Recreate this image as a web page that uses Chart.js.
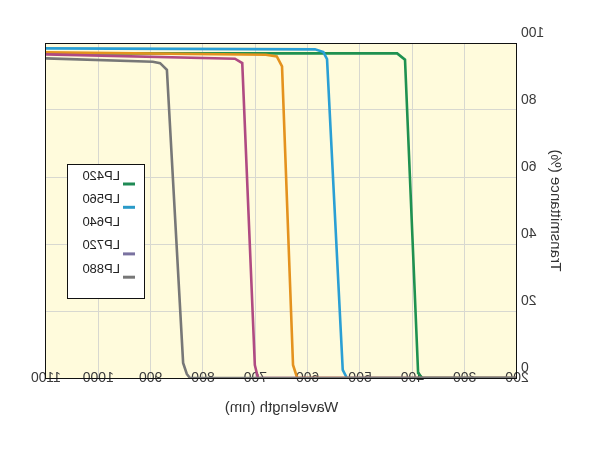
<!DOCTYPE html>
<html>
<head>
<meta charset="utf-8">
<script src="https://cdn.jsdelivr.net/npm/chart.js@4.4.1/dist/chart.umd.min.js"></script>
<style>
  html, body { margin: 0; padding: 0; background: #fff; }
  /* the reference is a horizontally mirrored picture */
  #chart { display: block; transform: scaleX(-1); }
</style>
</head>
<body>
<canvas id="chart" width="595" height="451"></canvas>
<script>
// Series names and readings (wavelength nm / transmittance %)
const seriesNames = ['LP420', 'LP560', 'LP640', 'LP720', 'LP880'];

const wl420 = [200, 381, 389, 414, 429, 1100];
const tr420 = [0, 0, 1.5, 95, 96.9, 96.9];

const wl560 = [200, 525, 533, 563, 570, 586, 1100];
const tr560 = [0, 0, 2.4, 95.2, 97.3, 98.1, 98.4];

const wl640 = [200, 620, 628, 649, 659, 680, 1100];
const tr640 = [0, 0, 3.9, 93, 96, 96.5, 97.2];

const wl720 = [200, 695, 701, 725, 739, 1100];
const tr720 = [0, 0, 3.9, 94, 95.3, 96.6];

const wl880 = [200, 825, 831, 838, 869, 882, 896, 1100];
const tr880 = [0, 0, 1.2, 4.5, 92, 94, 94.4, 95.4];

const xTicks = [200, 300, 400, 500, 600, 700, 800, 900, 1000, 1100];
const yTicks = [0, 20, 40, 60, 80, 100];

const wavelengths = [wl420, wl560, wl640, wl720, wl880];
const transmit = [tr420, tr560, tr640, tr720, tr880];

// styling
const lineColors = ['#1f9150', '#2a9fd4', '#e4921e', '#b04a82', '#777777'];
const swatchColors = ['#1f8a55', '#2a9ac8', 'rgba(0,0,0,0)', '#7a72a0', '#777777'];
const FONT = "'Liberation Sans', Arial, sans-serif";

const datasets = seriesNames.map((name, i) => ({
  label: name,
  data: wavelengths[i].map((w, j) => ({ x: w, y: transmit[i][j] })),
  borderColor: lineColors[i],
  backgroundColor: lineColors[i],
  borderWidth: 2.6,
  pointRadius: 0,
  tension: 0,
  showLine: true,
  order: seriesNames.length - i
}));

// plot background + frame
const frame = {
  id: 'frame',
  beforeDraw(chart) {
    const { ctx, chartArea: a } = chart;
    ctx.save();
    ctx.fillStyle = '#fffbdc';
    ctx.fillRect(a.left, a.top, a.right - a.left, a.bottom - a.top);
    ctx.restore();
  },
  afterDatasetsDraw(chart) {
    const { ctx, chartArea: a } = chart;
    ctx.save();
    ctx.strokeStyle = '#111';
    ctx.lineWidth = 1;
    ctx.strokeRect(a.left + 0.5, a.top + 0.5, a.right - a.left, a.bottom - a.top);
    ctx.restore();
  }
};

// boxed legend inside the plot
const boxLegend = {
  id: 'boxLegend',
  afterDraw(chart) {
    const { ctx, chartArea: a } = chart;
    const bx = a.right - 99, by = a.top + 121, bw = 77, bh = 134;
    ctx.save();
    ctx.fillStyle = '#fff';
    ctx.fillRect(bx, by, bw, bh);
    ctx.strokeStyle = '#111';
    ctx.lineWidth = 1;
    ctx.strokeRect(bx + 0.5, by + 0.5, bw, bh);
    ctx.font = '13px ' + FONT;
    ctx.textBaseline = 'middle';
    ctx.textAlign = 'left';
    chart.data.datasets.forEach((ds, i) => {
      const ty = by + 12 + i * 23.3;
      ctx.fillStyle = '#222';
      ctx.fillText(ds.label, bx + 25, ty);
      ctx.strokeStyle = swatchColors[i];
      ctx.lineWidth = 3;
      ctx.beginPath();
      ctx.moveTo(bx + 10, ty + 8);
      ctx.lineTo(bx + 22, ty + 8);
      ctx.stroke();
    });
    ctx.restore();
  }
};

new Chart(document.getElementById('chart'), {
  type: 'scatter',
  data: { datasets },
  plugins: [frame, boxLegend],
  options: {
    responsive: false,
    animation: false,
    devicePixelRatio: 1,
    layout: { padding: { top: 43, right: 46, bottom: 0, left: 0 } },
    plugins: { legend: { display: false }, tooltip: { enabled: false } },
    scales: {
      x: {
        type: 'linear',
        min: 200,
        max: 1100,
        afterFit(scale) {
          scale.height = 73;
          // labels sit across the axis line, so don't clip them to the scale box
          scale._computeLabelArea = () => undefined;
        },
        afterBuildTicks(scale) { scale.ticks = xTicks.map(v => ({ value: v })); },
        grid: { color: '#d8d8d0', drawTicks: false },
        border: { display: false },
        ticks: {
          padding: -8,
          color: '#3a3a3a',
          font: { family: FONT, size: 14 },
          callback: v => String(v)
        },
        title: {
          display: true,
          text: 'Wavelength (nm)',
          color: '#333',
          font: { family: FONT, size: 15 },
          padding: { top: 0, bottom: 34 }
        }
      },
      y: {
        min: 0,
        max: 100,
        afterFit(scale) { scale.width = 78; },
        afterBuildTicks(scale) { scale.ticks = yTicks.map(v => ({ value: v })); },
        grid: { color: '#d8d8d0', drawTicks: false },
        border: { display: false },
        ticks: { padding: 4, labelOffset: -10, color: '#3a3a3a', font: { family: FONT, size: 14 } },
        title: {
          display: true,
          text: 'Transmittance (%)',
          color: '#333',
          font: { family: FONT, size: 15 },
          padding: { top: 31, bottom: 0 }
        }
      }
    }
  }
});
</script>
</body>
</html>
